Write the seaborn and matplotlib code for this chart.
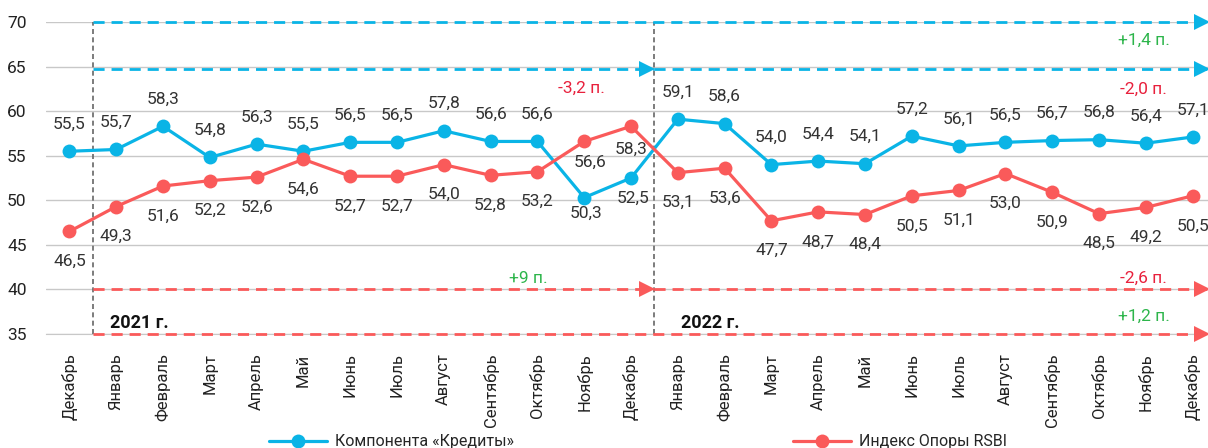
import matplotlib
matplotlib.use("Agg")
import matplotlib.pyplot as plt
import seaborn as sns
import pandas as pd
import numpy as np

# Data
months = ["Декабрь", "Январь", "Февраль", "Март", "Апрель", "Май", "Июнь", "Июль",
          "Август", "Сентябрь", "Октябрь", "Ноябрь", "Декабрь",
          "Январь", "Февраль", "Март", "Апрель", "Май", "Июнь", "Июль",
          "Август", "Сентябрь", "Октябрь", "Ноябрь", "Декабрь"]
credits = [55.5, 55.7, 58.3, 54.8, 56.3, 55.5, 56.5, 56.5, 57.8, 56.6, 56.6, 50.3, 52.5,
           59.1, 58.6, 54.0, 54.4, 54.1, 57.2, 56.1, 56.5, 56.7, 56.8, 56.4, 57.1]
rsbi = [46.5, 49.3, 51.6, 52.2, 52.6, 54.6, 52.7, 52.7, 54.0, 52.8, 53.2, 56.6, 58.3,
        53.1, 53.6, 47.7, 48.7, 48.4, 50.5, 51.1, 53.0, 50.9, 48.5, 49.2, 50.5]
series_names = ["Компонента «Кредиты»", "Индекс Опоры RSBI"]
changes = ["+1,4 п.", "-2,0 п.", "-3,2 п.", "+9 п.", "-2,6 п.", "+1,2 п."]
years = ["2021 г.", "2022 г."]

BLUE = "#0ab4e6"
RED = "#fa5a5a"
GREEN = "#2db54b"
PINK = "#e8203c"

sns.set_style("white")
plt.rcParams["font.family"] = ["Roboto", "DejaVu Sans"]

x = np.arange(len(months))
df = pd.DataFrame({
    "x": np.concatenate([x, x]),
    "value": credits + rsbi,
    "series": [series_names[0]] * len(x) + [series_names[1]] * len(x),
})

fig = plt.figure(figsize=(12.08, 4.48), dpi=100)
ax = fig.add_axes([46 / 1208, 114 / 448, 1170 / 1208, 312 / 448])

sns.lineplot(data=df, x="x", y="value", hue="series",
             palette=[BLUE, RED], marker="o", markersize=10, markeredgewidth=0,
             linewidth=2.3, ax=ax, legend=False, zorder=5)

ax.set_xlim(-0.5, len(months) - 0.5)
ax.set_ylim(35, 70)
ax.set_yticks(range(35, 71, 5))
ax.yaxis.grid(True, color="#c8c8c8", linewidth=1)
ax.set_axisbelow(True)
for s in ["top", "right", "left"]:
    ax.spines[s].set_visible(False)
ax.spines["bottom"].set_color("#c8c8c8")
ax.set_xlabel("")
ax.set_ylabel("")

ax.set_xticks(x)
ax.set_xticklabels(months, rotation=90, fontsize=12, color="#222222")
ax.set_xticks(np.arange(-0.5, len(months), 1), minor=True)
ax.tick_params(axis="x", which="major", length=0, pad=14)
ax.tick_params(axis="x", which="minor", length=6, color="#c8c8c8")
ax.tick_params(axis="y", length=0, labelsize=12.5, labelcolor="#222222", pad=14)

# value labels (offsets in pixels)
blue_off = {11: (2, -16), 12: (2, -20)}
red_off = {11: (6, -21), 12: (0, -23)}
for i, v in enumerate(credits):
    dx, dy = blue_off.get(i, (0, 27))
    ax.annotate(f"{v:.1f}".replace(".", ","), (i, v), xytext=(dx, dy),
                textcoords="offset pixels",
                ha="center", va="center", fontsize=12.5, color="#333333")
for i, v in enumerate(rsbi):
    dx, dy = red_off.get(i, (0, -30))
    ax.annotate(f"{v:.1f}".replace(".", ","), (i, v), xytext=(dx, dy),
                textcoords="offset pixels",
                ha="center", va="center", fontsize=12.5, color="#333333")

# year dividers
start, mid, end = 0.5, 12.5, 24.35
for xv in (start, mid):
    ax.plot([xv, xv], [35, 70], color="#666666", linestyle=(0, (3, 2)), linewidth=1.2, zorder=3)

# dashed arrows
def arrow(x0, x1, y, color):
    ax.plot([x0, x1], [y, y], color=color, linestyle=(0, (4, 2.5)), linewidth=2, zorder=4,
            clip_on=False)
    ax.plot([x1 - 0.15], [y], marker=">", color=color, markersize=11, markeredgewidth=0,
            zorder=4, clip_on=False)

arrow(start, end, 70, BLUE)
arrow(start, mid, 64.7, BLUE)
arrow(mid, end, 64.7, BLUE)
arrow(start, mid, 40, RED)
arrow(mid, end, 40, RED)
arrow(start, end, 35, RED)

txt = dict(ha="center", va="center", fontsize=12.5)
ax.text(22.95, 68.0, changes[0], color=GREEN, **txt)
ax.text(22.95, 62.5, changes[1], color=PINK, **txt)
ax.text(10.95, 62.6, changes[2], color=PINK, **txt)
ax.text(9.8, 41.2, changes[3], color=GREEN, **txt)
ax.text(22.95, 41.2, changes[4], color=PINK, **txt)
ax.text(22.95, 37.0, changes[5], color=GREEN, **txt)
ax.text(1.5, 36.2, years[0], color="#111111", fontsize=13, fontweight="bold", ha="center", va="center")
ax.text(13.7, 36.2, years[1], color="#111111", fontsize=13, fontweight="bold", ha="center", va="center")

# legend
handles = [plt.Line2D([], [], color=c, marker="o", markersize=10, markeredgewidth=0, linewidth=2.3)
           for c in (BLUE, RED)]
fig.legend(handles, series_names, loc="lower center", bbox_to_anchor=(0.528, -0.035), ncol=2,
           frameon=False, fontsize=11.5, handlelength=3.6, columnspacing=17.5, handletextpad=0.5)

fig.savefig("out.png", dpi=100)
